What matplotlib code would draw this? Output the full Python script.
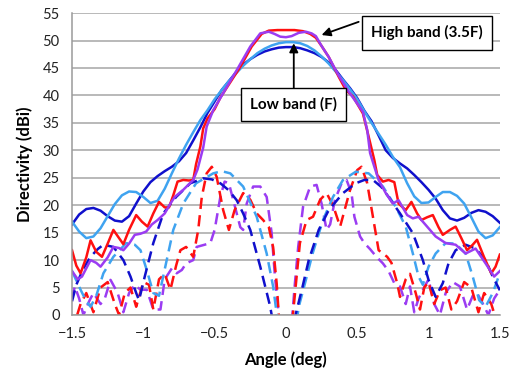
import matplotlib
matplotlib.use("Agg")
import matplotlib.pyplot as plt

plt.rcParams['font.family'] = ['Lato', 'DejaVu Sans']

# colours of the four configurations
c_dblue = '#1010CC'
c_lblue = '#3FA3F0'
c_red = '#FF1010'
c_purple = '#9B3CF2'

# ---- solid curves (co-pol) ----
x_dblue = [-1.5, -1.45, -1.4, -1.35, -1.3, -1.25, -1.2, -1.15, -1.1, -1.05, -1.0, -0.95,
           -0.9, -0.85, -0.8, -0.75, -0.7, -0.65, -0.6, -0.55, -0.5, -0.45, -0.4, -0.35,
           -0.3, -0.25, -0.2, -0.15, -0.1, -0.05, 0.0, 0.05, 0.1, 0.15, 0.2, 0.25, 0.3,
           0.35, 0.4, 0.45, 0.5, 0.55, 0.6, 0.65, 0.7, 0.75, 0.8, 0.85, 0.9, 0.95, 1.0,
           1.05, 1.1, 1.15, 1.2, 1.25, 1.3, 1.35, 1.4, 1.45, 1.5]
y_dblue = [16.5, 18.3, 19.3, 19.5, 19.0, 18.0, 17.2, 17.0, 18.0, 20.3, 22.5, 24.2,
           25.3, 26.2, 27.0, 28.0, 29.5, 31.8, 34.2, 36.8, 38.9, 41.0, 42.6, 44.2,
           45.6, 46.6, 47.4, 48.0, 48.4, 48.7, 48.8, 48.8, 48.6, 48.2, 47.7, 47.0, 46.0,
           44.6, 42.9, 41.3, 39.5, 37.2, 35.3, 32.7, 30.0, 28.6, 27.6, 26.7, 25.5, 24.2, 22.8,
           21.2, 19.1, 17.6, 17.2, 17.7, 18.6, 19.1, 18.8, 18.0, 16.8]

x_lblue = x_dblue
y_lblue = [17.0, 15.2, 14.0, 14.3, 15.8, 18.0, 20.2, 21.8, 22.5, 22.4, 21.5, 20.4,
           20.8, 23.0, 25.8, 28.5, 31.0, 33.3, 35.5, 37.3, 39.3, 41.0, 42.6, 44.0,
           45.4, 46.6, 47.7, 48.5, 49.1, 49.5, 49.7, 49.7, 49.5, 49.0, 48.2, 47.1, 45.8,
           44.3, 42.8, 41.1, 39.3, 37.1, 35.0, 33.0, 31.0, 28.8, 26.9, 24.0, 21.6, 20.4, 20.5,
           21.5, 22.4, 22.4, 21.7, 20.3, 17.8, 15.2, 14.0, 14.5, 16.0]

x_red = [-1.5, -1.47, -1.44, -1.4, -1.37, -1.33, -1.29, -1.25, -1.21, -1.17, -1.14, -1.1,
         -1.05, -1.01, -0.97, -0.93, -0.89, -0.85, -0.82, -0.79, -0.76, -0.72, -0.68, -0.65,
         -0.63, -0.6, -0.58, -0.55, -0.5, -0.46, -0.39, -0.32, -0.24, -0.17, -0.12, -0.06, 0.0,
         0.06, 0.12, 0.17, 0.21, 0.25, 0.3, 0.37, 0.42, 0.47, 0.54, 0.58, 0.62, 0.64, 0.68,
         0.72, 0.76, 0.79, 0.84, 0.88, 0.92, 0.95, 0.99, 1.03, 1.07, 1.1, 1.15, 1.19, 1.23,
         1.27, 1.31, 1.34, 1.39, 1.44, 1.47, 1.5]
y_red = [11.8, 9.0, 7.6, 10.5, 13.6, 11.5, 10.6, 13.0, 15.5, 14.0, 12.9, 15.5,
         18.2, 17.0, 16.1, 18.5, 20.6, 19.6, 19.6, 21.8, 24.3, 24.6, 24.5, 24.6,
         27.5, 30.7, 34.0, 35.8, 37.5, 39.6, 42.4, 45.2, 48.9, 51.2, 51.8, 51.9, 51.9,
         51.9, 51.7, 51.2, 50.5, 49.0, 47.0, 43.4, 41.0, 39.8, 36.7, 32.5, 28.2, 25.5, 24.3,
         24.6, 24.2, 20.3, 19.1, 20.6, 18.5, 17.3, 17.8, 18.2, 16.0, 14.6, 15.5, 16.1, 14.0,
         11.8, 12.8, 13.7, 10.5, 7.6, 8.8, 11.0]

x_purple = [-1.5, -1.46, -1.43, -1.37, -1.33, -1.3, -1.25, -1.21, -1.17, -1.14, -1.1, -1.06,
            -1.02, -0.98, -0.94, -0.9, -0.85, -0.81, -0.78, -0.72, -0.65, -0.62, -0.6, -0.58,
            -0.556, -0.51, -0.44, -0.345, -0.25, -0.18, -0.12, -0.08, -0.04, 0.0, 0.04, 0.09,
            0.14, 0.18, 0.21, 0.25, 0.3, 0.37, 0.44, 0.5, 0.54, 0.57, 0.59, 0.62, 0.65, 0.7,
            0.75, 0.79, 0.85, 0.89, 0.93, 0.98, 1.05, 1.12, 1.19, 1.26, 1.33, 1.4, 1.46, 1.5]
y_purple = [8.0, 6.5, 7.0, 10.0, 9.5, 8.8, 10.5, 12.4, 12.2, 11.8, 13.0, 14.6,
            14.8, 15.2, 16.5, 17.3, 18.5, 20.3, 21.5, 22.8, 24.6, 26.5, 28.5, 30.5,
            34.3, 37.3, 40.4, 44.6, 48.9, 51.3, 51.6, 51.2, 50.7, 50.6, 50.8, 51.4,
            51.6, 51.3, 50.8, 49.0, 47.0, 43.6, 40.7, 38.5, 37.0, 33.7, 29.5, 27.0, 24.6, 22.2,
            20.3, 20.9, 18.2, 17.6, 17.9, 16.4, 14.3, 13.1, 12.8, 11.2, 12.1, 9.4, 7.0, 8.0]

# ---- dashed curves (cross-pol) ----
x_dblue_x = [-1.5, -1.47, -1.42, -1.37, -1.32, -1.28, -1.21, -1.14, -1.09, -1.05, -1.03, -0.99,
             -0.93, -0.86, -0.77, -0.67, -0.58, -0.52, -0.46, -0.4, -0.345, -0.3, -0.25, -0.18,
             -0.11, 0.0, 0.07, 0.117, 0.16, 0.23, 0.3, 0.4, 0.49, 0.55, 0.61, 0.67, 0.72, 0.8,
             0.89, 0.96, 1.0, 1.05, 1.1, 1.14, 1.19, 1.26, 1.33, 1.4, 1.45, 1.5]
y_dblue_x = [2.5, 5.5, 8.5, 10.6, 12.0, 12.8, 12.4, 10.0, 7.0, 4.0, 2.7, 7.0,
             13.1, 18.5, 21.5, 24.0, 24.9, 24.7, 24.0, 22.7, 20.9, 18.5, 15.5, 8.8,
             1.5, -15.0, 0.3, 5.2, 10.0, 15.5, 19.1, 22.2, 24.0, 24.6, 24.6, 23.3, 21.5, 18.5,
             14.9, 10.0, 6.4, 3.3, 5.8, 9.4, 11.8, 12.8, 12.1, 10.0, 7.0, 4.5]

x_lblue_x = [-1.5, -1.44, -1.4, -1.37, -1.33, -1.28, -1.21, -1.12, -1.06, -1.02, -0.976, -0.93,
             -0.89, -0.836, -0.79, -0.72, -0.63, -0.51, -0.45, -0.39, -0.3, -0.205, -0.135, -0.09,
             -0.065, 0.0, 0.09, 0.14, 0.187, 0.26, 0.33, 0.4, 0.49, 0.58, 0.68, 0.77, 0.84, 0.89,
             0.93, 0.96, 1.0, 1.05, 1.12, 1.19, 1.26, 1.31, 1.355, 1.4, 1.45, 1.5]
y_lblue_x = [8.0, 4.6, 2.5, 1.5, 3.5, 7.6, 10.6, 13.1, 12.8, 11.8, 8.2, 4.0,
             3.5, 10.0, 15.5, 20.3, 24.0, 25.8, 26.2, 25.8, 23.4, 17.9, 11.2, 5.2,
             0.3, -15.0, 1.5, 6.4, 11.2, 17.3, 21.5, 24.6, 26.1, 25.8, 23.4, 19.7, 16.1, 11.2,
             7.0, 5.5, 8.8, 11.2, 13.1, 13.0, 11.2, 7.0, 2.7, 1.5, 4.0, 7.6]

x_red_x = [-1.5, -1.44, -1.4, -1.35, -1.3, -1.25, -1.2, -1.17, -1.13, -1.09, -1.05, -1.0,
           -0.96, -0.93, -0.89, -0.85, -0.81, -0.77, -0.74, -0.7, -0.65, -0.615, -0.59, -0.556,
           -0.52, -0.486, -0.44, -0.4, -0.36, -0.3, -0.25, -0.205, -0.16, -0.12, -0.09, -0.065,
           -0.05, 0.0, 0.05, 0.075, 0.098, 0.145, 0.19, 0.24, 0.285, 0.33, 0.38, 0.45, 0.5,
           0.53, 0.57, 0.61, 0.65, 0.71, 0.74, 0.78, 0.8, 0.84, 0.87, 0.91, 0.94, 0.97, 1.0,
           1.04, 1.08, 1.12, 1.16, 1.2, 1.25, 1.3, 1.35, 1.39, 1.44, 1.5]
y_red_x = [-3.0, 2.0, 4.0, 0.5, 5.0, 6.0, 2.0, 0.0, 4.0, 5.0, 1.5, 6.0,
           5.5, 1.0, 6.5, 7.5, 4.6, 9.0, 11.8, 12.4, 10.6, 15.5, 21.5, 25.8,
           27.0, 25.2, 19.1, 15.5, 19.1, 22.2, 21.0, 18.5, 17.3, 16.0, 12.4, 5.8,
           0.0, -15.0, 0.3, 7.0, 13.1, 17.3, 17.9, 21.0, 22.2, 20.0, 16.1, 22.8, 26.4,
           27.0, 24.0, 17.9, 11.8, 10.6, 9.5, 5.8, 3.3, 6.5, 7.5, 4.0, 1.0, 5.0, 6.0,
           2.0, 4.5, 5.0, 1.0, 2.5, 6.0, 5.0, 0.5, 4.0, 2.0, -3.0]

x_purple_x = [-1.5, -1.48, -1.45, -1.42, -1.38, -1.35, -1.3, -1.27, -1.23, -1.18, -1.14, -1.1,
              -1.06, -1.02, -0.976, -0.93, -0.88, -0.85, -0.8, -0.766, -0.73, -0.7, -0.65,
              -0.626, -0.57, -0.53, -0.5, -0.46, -0.43, -0.4, -0.36, -0.32, -0.3, -0.275, -0.23,
              -0.18, -0.135, -0.1, -0.077, -0.05, 0.0, 0.045, 0.063, 0.086, 0.12, 0.17, 0.215,
              0.25, 0.285, 0.31, 0.343, 0.39, 0.425, 0.46, 0.48, 0.52, 0.55, 0.59, 0.635, 0.68,
              0.72, 0.76, 0.8, 0.84, 0.87, 0.9, 0.93, 0.96, 1.0, 1.04, 1.08, 1.12, 1.17, 1.22,
              1.27, 1.31, 1.34, 1.38, 1.42, 1.46, 1.5]
y_purple_x = [3.0, 5.2, 3.0, 0.0, 2.5, 4.0, 2.0, 3.0, 6.4, 4.0, 0.5, 4.0,
              5.5, 4.6, 4.6, 1.0, 1.0, 6.5, 8.5, 7.6, 8.2, 9.4, 10.0,
              12.4, 12.8, 13.1, 15.5, 21.5, 24.3, 24.0, 20.0, 16.0, 15.5, 20.3, 23.4,
              23.4, 21.5, 14.9, 7.0, 0.0, -15.0, 0.0, 5.8, 12.4, 19.7, 23.4, 23.7,
              20.3, 15.5, 16.5, 20.9, 24.0, 24.6, 22.2, 17.9, 14.3, 13.1, 12.0, 10.6, 9.4,
              8.0, 5.8, 5.2, 2.0, 5.2, 0.5, 3.0, 4.6, 6.5, 2.0, 0.0, 4.0, 6.0, 5.2,
              1.0, 3.5, 4.0, 2.1, 0.0, 3.0, 4.6]

x_ticks = [-1.5, -1, -0.5, 0, 0.5, 1, 1.5]
x_ticklabels = ['\u22121.5', '\u22121', '\u22120.5', '0', '0.5', '1', '1.5']
y_ticks = list(range(0, 56, 5))

fig = plt.figure(figsize=(5.09, 3.73), dpi=100)
ax = fig.add_axes([0.1415, 0.1555, 0.8405, 0.8095])

dash = (4.5, 2.5)
lw = 1.8
ax.plot(x_purple_x, y_purple_x, color=c_purple, lw=lw, dashes=dash)
ax.plot(x_red_x, y_red_x, color=c_red, lw=lw, dashes=dash)
ax.plot(x_lblue_x, y_lblue_x, color=c_lblue, lw=lw, dashes=dash)
ax.plot(x_dblue_x, y_dblue_x, color=c_dblue, lw=lw, dashes=dash)

ax.plot(x_dblue, y_dblue, color=c_dblue, lw=lw)
ax.plot(x_lblue, y_lblue, color=c_lblue, lw=lw)
ax.plot(x_red, y_red, color=c_red, lw=lw)
ax.plot(x_purple, y_purple, color=c_purple, lw=lw)

ax.set_xlim(-1.5, 1.5)
ax.set_ylim(0, 55)
ax.set_xticks(x_ticks)
ax.set_xticklabels(x_ticklabels)
ax.set_yticks(y_ticks)
ax.tick_params(axis='both', length=0, labelsize=10.5, colors='#222222')
ax.tick_params(axis='x', pad=9)
ax.tick_params(axis='y', pad=9)
ax.yaxis.grid(True, color='#A6A6A6', lw=1.1)
ax.set_axisbelow(True)
for s in ['top', 'right']:
    ax.spines[s].set_visible(False)
for s in ['left', 'bottom']:
    ax.spines[s].set_color('#9A9A9A')
    ax.spines[s].set_linewidth(1.1)

ax.set_xlabel('Angle (deg)', fontsize=12, fontweight='bold', labelpad=7)
ax.set_ylabel('Directivity (dBi)', fontsize=12, fontweight='bold', labelpad=7)

# annotation boxes and arrows
box = dict(boxstyle='square,pad=0.6', fc='white', ec='black', lw=1.0)
arrow = dict(arrowstyle='-|>', color='black', lw=1.3, mutation_scale=13, shrinkA=0, shrinkB=0)
ax.annotate('', xy=(0.25, 51.0), xytext=(0.51, 53.4), arrowprops=arrow, zorder=9)
ax.text(0.99, 51.4, 'High band (3.5F)', fontsize=11, fontweight='bold',
        ha='center', va='center', bbox=box, zorder=10)
ax.annotate('Low band (F)', xy=(0.055, 49.5), xytext=(0.055, 38.3),
            fontsize=11, fontweight='bold', ha='center', va='center',
            bbox=box, arrowprops=arrow, zorder=10)

fig.savefig('out.png', dpi=100)
